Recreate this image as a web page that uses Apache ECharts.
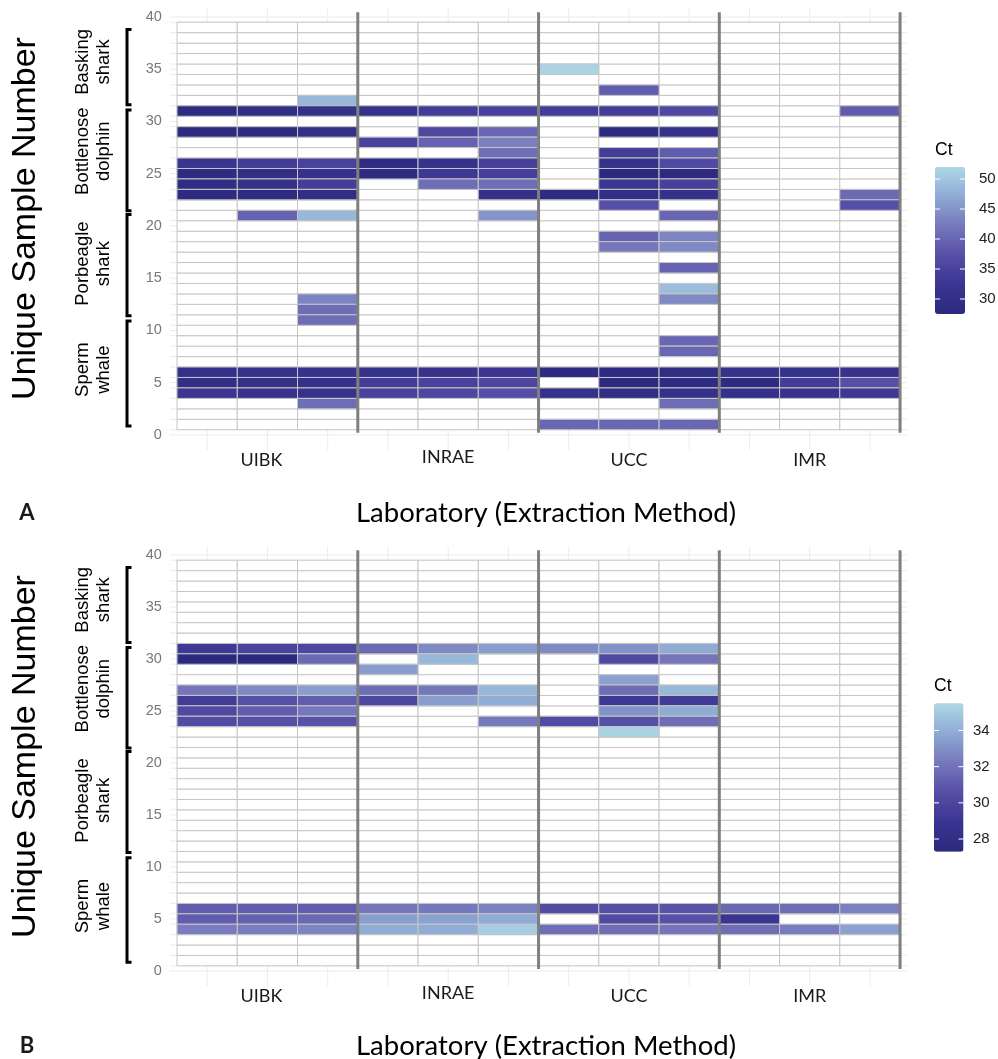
<!DOCTYPE html>
<html><head><meta charset="utf-8">
<script src="https://cdn.jsdelivr.net/npm/echarts@6/dist/echarts.min.js"></script>
<style>html,body{margin:0;padding:0;background:#fff}#c{width:998px;height:1059px}</style>
</head><body><div id="c"></div>
<script>
// ---------------- data ----------------
const labs = ['UIBK', 'INRAE', 'UCC', 'IMR'];
const labCenters = [2, 5, 8, 11];
const yTickValues = [0, 5, 10, 15, 20, 25, 30, 35, 40];
const separators = [3.5, 6.5, 9.5, 12.5];
const species = ['Basking\nshark', 'Bottlenose\ndolphin', 'Porbeagle\nshark', 'Sperm\nwhale'];
const speciesTop = [38.8, 31.1, 21.1, 10.9];
const speciesBottom = [31.6, 21.45, 11.4, 0.85];
const speciesLabelY = [35.7, 27.15, 16.4, 6.25];
const legendTicksA = [30, 35, 40, 45, 50];
const legendTicksB = [28, 30, 32, 34];
const ctRangeA = [27.5, 52];
const ctRangeB = [27.3, 35.5];
const ctColors = ['#2b2a7e', '#3a3591', '#564fa7', '#7678bc', '#8faad4', '#add8e6'];

// [replicate (1-3), unique sample number, Ct]
const A_UIBK = [[3,32,48.5],[1,31,28.2],[2,31,29.5],[3,31,30.4],[1,29,27.8],[2,29,28.2],[3,29,30.4],
  [1,26,32.0],[2,26,33.9],[3,26,34.9],[1,25,28.2],[2,25,29.5],[3,25,30.9],[1,24,29.0],[2,24,30.4],[3,24,33.9],
  [1,23,28.0],[2,23,28.2],[3,23,29.5],[2,21,39.8],[3,21,48.6],[3,13,43.4],[3,12,41.0],[3,11,41.0],
  [1,6,30.5],[2,6,30.9],[3,6,31.4],[1,5,29.5],[2,5,30.4],[3,5,30.5],[1,4,32.4],[2,4,31.4],[3,4,30.9],[3,3,41.0]];
const A_INRAE = [[1,31,30.9],[2,31,33.9],[3,31,34.9],[2,29,36.0],[3,29,40.2],[1,28,34.9],[2,28,39.8],[3,28,43.0],
  [3,27,41.0],[1,26,28.5],[2,26,30.9],[3,26,34.5],[1,25,28.2],[2,25,33.0],[3,25,34.2],[2,24,41.0],[3,24,41.0],
  [3,23,30.7],[3,21,45.0],[1,6,30.9],[2,6,31.4],[3,6,32.4],[1,5,33.9],[2,5,34.9],[3,5,35.6],[1,4,34.9],[2,4,35.8],[3,4,37.2]];
const A_UCC = [[1,35,51.5],[2,33,39.0],[1,31,33.9],[2,31,33.9],[3,31,36.1],[2,29,28.5],[3,29,31.2],[2,27,33.9],[3,27,39.0],
  [2,26,30.9],[3,26,36.1],[2,25,27.6],[3,25,27.8],[2,24,32.4],[3,24,34.5],[1,23,28.2],[2,23,29.5],[3,23,30.5],
  [2,22,37.3],[3,21,40.0],[2,19,39.8],[3,19,43.4],[2,18,42.0],[3,18,44.0],[3,16,39.8],[3,14,49.1],[3,13,44.0],
  [3,9,40.2],[3,8,40.2],[1,6,28.5],[2,6,28.5],[3,6,29.0],[2,5,28.0],[3,5,28.5],[1,4,30.9],[2,4,29.5],[3,4,30.5],
  [3,3,41.0],[1,1,40.2],[2,1,40.2],[3,1,40.2]];
const A_IMR = [[3,31,39.0],[3,23,40.5],[3,22,37.3],[1,6,30.9],[2,6,30.9],[3,6,31.4],[1,5,28.2],[2,5,33.9],[3,5,37.3],
  [1,4,30.5],[2,4,31.4],[3,4,33.0]];

const B_UIBK = [[1,31,29.2],[2,31,29.9],[3,31,30.1],[1,30,27.3],[2,30,27.3],[3,30,31.6],[1,27,32.1],[2,27,32.8],[3,27,33.45],
  [1,26,29.4],[2,26,30.6],[3,26,31.1],[1,25,30.2],[2,25,31.15],[3,25,32.2],[1,24,30.3],[2,24,30.6],[3,24,30.7],
  [1,6,31.15],[2,6,31.15],[3,6,31.15],[1,5,31.15],[2,5,31.3],[3,5,31.6],[1,4,32.4],[2,4,32.4],[3,4,32.6]];
const B_INRAE = [[1,31,31.6],[2,31,32.8],[3,31,33.45],[2,30,34.35],[1,29,33.45],[1,27,31.8],[2,27,32.2],[3,27,34.35],
  [1,26,30.1],[2,26,33.45],[3,26,33.95],[3,24,32.2],[1,6,32.1],[2,6,32.2],[3,6,32.5],[1,5,33.45],[2,5,33.6],[3,5,33.9],
  [1,4,33.95],[2,4,33.95],[3,4,35.1]];
const B_UCC = [[1,31,32.8],[2,31,33.1],[3,31,33.9],[2,30,30.2],[3,30,32.1],[2,28,33.6],[2,27,31.8],[3,27,34.35],
  [2,26,29.1],[3,26,29.3],[2,25,33.1],[3,25,33.9],[1,24,30.3],[2,24,30.6],[3,24,31.8],[2,23,35.3],
  [1,6,30.3],[2,6,30.5],[3,6,30.7],[2,5,30.3],[3,5,30.6],[1,4,31.8],[2,4,31.8],[3,4,32.1]];
const B_IMR = [[1,6,31.6],[2,6,31.8],[3,6,32.5],[1,5,28.9],[1,4,31.8],[2,4,32.4],[3,4,33.6]];

// ---------------- layout ----------------
const X_MIN = 0.38, X_MAX = 12.62, Y_MIN = -1.44, Y_MAX = 40.83;
const panels = [
  { letter: 'A', labs: [A_UIBK, A_INRAE, A_UCC, A_IMR], top: 8.3, height: 441.7, titleY: 513, yTitleY: 218.5,
    range: ctRangeA, ticks: legendTicksA, lg: { x: 935, y: 167, w: 30, h: 147, labelX: 979, ctY: 150 } },
  { letter: 'B', labs: [B_UIBK, B_INRAE, B_UCC, B_IMR], top: 546.4, height: 439.6, titleY: 1046, yTitleY: 756.5,
    range: ctRangeB, ticks: legendTicksB, lg: { x: 934, y: 703.3, w: 29.5, h: 148.4, labelX: 973, ctY: 686 } }
];
const GRID_LEFT = 169.8, GRID_WIDTH = 737.5;

function tileRenderer(fillFn) {
  return function (params, api) {
    const x = api.value(0), y = api.value(1);
    const a = api.coord([x - 0.5, y + 0.5]);
    const b = api.coord([x + 0.5, y - 0.5]);
    return { type: 'rect', shape: { x: a[0], y: a[1], width: b[0] - a[0], height: b[1] - a[1] },
      style: { fill: fillFn(api), stroke: '#c6c6c6', lineWidth: 1 } };
  };
}

const grids = [], xAxes = [], yAxes = [], series = [], visualMaps = [], graphics = [];
const labelStyle = { fontSize: 18, fontFamily: 'Lato', color: '#1a1a1a' };

panels.forEach((p, gi) => {
  grids.push({ left: GRID_LEFT, top: p.top, width: GRID_WIDTH, height: p.height });
  xAxes.push({
    type: 'value', gridIndex: gi, min: X_MIN, max: X_MAX,
    axisLine: { show: false }, axisTick: { show: false }, splitLine: { show: false },
    axisLabel: {
      customValues: labCenters, margin: 1, fontSize: 18, fontFamily: 'Lato', color: '#1a1a1a', lineHeight: 18,
      formatter: v => {
        const i = labCenters.indexOf(Math.round(v));
        if (i < 0) return '';
        if (i === 0) return '{l|' + labs[i] + '}';
        if (i === 1) return '{up|' + labs[i] + '}';
        return labs[i];
      },
      rich: {
        up: Object.assign({ lineHeight: 12 }, labelStyle),
        l: Object.assign({ lineHeight: 18, padding: [0, 12, 0, 0] }, labelStyle)
      }
    }
  });
  yAxes.push({
    type: 'value', gridIndex: gi, min: Y_MIN, max: Y_MAX,
    axisLine: { show: false }, axisTick: { show: false }, splitLine: { show: false },
    axisLabel: { customValues: yTickValues, margin: 8, fontSize: 14.5, fontFamily: 'Liberation Sans', color: '#7d7771' }
  });

  // faint panel grid
  const gl = [];
  yTickValues.forEach(v => gl.push([X_MIN, v, X_MAX, v]));
  for (let v = 0.5; v < 40; v += 1) gl.push([X_MIN, v, X_MAX, v]);
  for (let c = 1; c <= 12; c++) gl.push([c, Y_MIN, c, Y_MAX]);
  series.push({
    type: 'custom', xAxisIndex: gi, yAxisIndex: gi, z: 1, silent: true, data: gl, encode: { x: 0, y: 1 },
    renderItem: (params, api) => {
      const a = api.coord([api.value(0), api.value(1)]), b = api.coord([api.value(2), api.value(3)]);
      return { type: 'line', shape: { x1: a[0], y1: a[1], x2: b[0], y2: b[1] }, style: { stroke: '#ececec', lineWidth: 1 } };
    }
  });

  // background (empty) tiles
  const bg = [];
  for (let c = 1; c <= 12; c++) for (let r = 1; r <= 39; r++) bg.push([c, r]);
  series.push({ type: 'custom', xAxisIndex: gi, yAxisIndex: gi, z: 2, silent: true, data: bg, encode: { x: 0, y: 1 },
    renderItem: tileRenderer(() => '#ffffff') });

  // Ct tiles
  const ct = [];
  p.labs.forEach((arr, li) => arr.forEach(d => ct.push([li * 3 + d[0], d[1], d[2]])));
  series.push({ type: 'custom', name: 'Ct ' + p.letter, xAxisIndex: gi, yAxisIndex: gi, z: 3, data: ct,
    encode: { x: 0, y: 1 }, renderItem: tileRenderer(api => api.visual('color')) });
  visualMaps.push({
    type: 'continuous', seriesIndex: series.length - 1, dimension: 2, min: p.range[0], max: p.range[1],
    inRange: { color: ctColors }, calculable: false, hoverLink: false, orient: 'vertical',
    left: p.lg.x, top: p.lg.y, itemWidth: p.lg.w, itemHeight: p.lg.h, padding: 0, text: null
  });

  // laboratory separators
  series.push({ type: 'custom', xAxisIndex: gi, yAxisIndex: gi, z: 4, silent: true, clip: false,
    data: separators.map(s => [s, 0.2, 40.45]), encode: { x: 0, y: 1 },
    renderItem: (params, api) => {
      const a = api.coord([api.value(0), api.value(1)]), b = api.coord([api.value(0), api.value(2)]);
      return { type: 'line', shape: { x1: a[0], y1: a[1], x2: b[0], y2: b[1] }, style: { stroke: '#7f7f7f', lineWidth: 3 } };
    } });

  // species brackets + labels
  series.push({ type: 'custom', xAxisIndex: gi, yAxisIndex: gi, z: 4, silent: true, clip: false,
    data: species.map((s, i) => [X_MIN, speciesLabelY[i], i]), encode: { x: 0, y: 1 },
    renderItem: (params, api) => {
      const i = params.dataIndex;
      const yt = api.coord([1, speciesTop[i]])[1], yb = api.coord([1, speciesBottom[i]])[1];
      const yc = api.coord([1, speciesLabelY[i]])[1];
      return { type: 'group', children: [
        { type: 'polyline', shape: { points: [[131.5, yt], [127, yt], [127, yb], [131.5, yb]] },
          style: { stroke: '#000', lineWidth: 3, fill: null } },
        { type: 'text', x: 93.5, y: yc, rotation: Math.PI / 2,
          style: { text: species[i], fontSize: 18.5, fontFamily: 'Liberation Sans', fill: '#000',
            align: 'center', verticalAlign: 'middle', lineHeight: 20.7 } }
      ] };
    } });

  // titles
  graphics.push({ type: 'text', x: 26, y: p.yTitleY, rotation: Math.PI / 2,
    style: { text: 'Unique Sample Number', fontSize: 34, fontFamily: 'Liberation Sans', fill: '#000', align: 'center', verticalAlign: 'middle' } });
  graphics.push({ type: 'text', x: 546, y: p.titleY,
    style: { text: 'Laboratory (Extraction Method)', fontSize: 27.5, fontFamily: 'Lato', fill: '#000', align: 'center', verticalAlign: 'middle' } });
  graphics.push({ type: 'text', x: 27, y: p.titleY,
    style: { text: p.letter, fontSize: 22, fontWeight: 'bold', fontFamily: 'Lato', fill: '#1a1a1a', align: 'center', verticalAlign: 'middle' } });

  // legend title, ticks and labels
  graphics.push({ type: 'text', x: p.lg.x, y: p.lg.ctY,
    style: { text: 'Ct', fontSize: 17.5, fontFamily: 'Liberation Sans', fill: '#000', align: 'left', verticalAlign: 'middle' } });
  p.ticks.forEach(v => {
    const ty = p.lg.y + (p.range[1] - v) / (p.range[1] - p.range[0]) * p.lg.h;
    graphics.push({ type: 'line', z: 100, shape: { x1: p.lg.x, y1: ty, x2: p.lg.x + 5, y2: ty }, style: { stroke: '#ffffff', lineWidth: 1 } });
    graphics.push({ type: 'line', z: 100, shape: { x1: p.lg.x + p.lg.w - 5, y1: ty, x2: p.lg.x + p.lg.w, y2: ty }, style: { stroke: '#ffffff', lineWidth: 1 } });
    graphics.push({ type: 'text', x: p.lg.labelX, y: ty,
      style: { text: String(v), fontSize: 15, fontFamily: 'Liberation Sans', fill: '#222', align: 'left', verticalAlign: 'middle' } });
  });
});

const chart = echarts.init(document.getElementById('c'), null, { renderer: 'canvas' });
chart.setOption({
  backgroundColor: '#ffffff',
  animation: false,
  grid: grids, xAxis: xAxes, yAxis: yAxes, series: series, visualMap: visualMaps, graphic: graphics
});
</script></body></html>
